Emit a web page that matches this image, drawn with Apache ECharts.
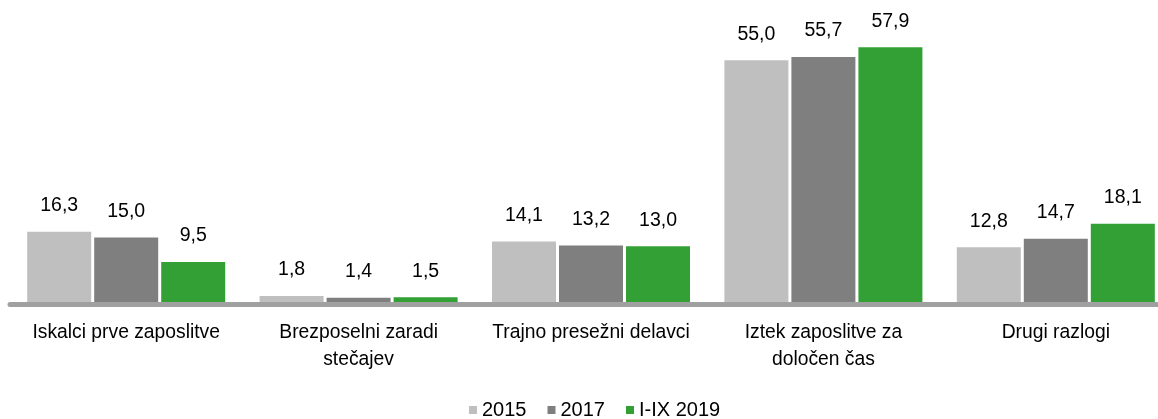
<!DOCTYPE html>
<html lang="sl">
<head>
    <meta charset="UTF-8">
    <title>Razlogi za brezposelnost</title>
    <script type="text/javascript" src="https://cdn.jsdelivr.net/npm/echarts@6/dist/echarts.min.js"></script>
    <style>
        html, body { margin: 0; padding: 0; background: #fff; }
    </style>
</head>
<body>
<div id="main" style="height: 419px; width: 1158px"></div>
<script>
    // kategorije in vrednosti (v %)
    let categories = ['Iskalci prve zaposlitve', 'Brezposelni zaradi\nstečajev', 'Trajno presežni delavci',
        'Iztek zaposlitve za\ndoločen čas', 'Drugi razlogi'];
    let seriesNames = ['2015', '2017', 'I-IX 2019'];
    let values2015 = [16.3, 1.8, 14.1, 55.0, 12.8];
    let values2017 = [15.0, 1.4, 13.2, 55.7, 14.7];
    let values2019 = [9.5, 1.5, 13.0, 57.9, 18.1];
    let colors = ['#bfbfbf', '#7f7f7f', '#33a035'];

    let font = "'Liberation Sans', Arial, sans-serif";

    function makeSeries(name, data, color) {
        return {
            name: name,
            type: 'bar',
            data: data,
            barWidth: 64,
            barGap: '4.7%',
            itemStyle: {color: color},
            label: {
                show: true,
                position: 'top',
                distance: 16,
                color: '#000',
                fontFamily: font,
                fontSize: 19.5,
                formatter: function (p) {
                    return p.value.toFixed(1).replace('.', ',');
                }
            }
        };
    }

    let myChart = echarts.init(document.getElementById('main'));
    let option = {
        animation: false,
        color: colors,
        grid: {left: 10, width: 1162, top: 38, bottom: 115, outerBoundsMode: 'none', containLabel: false},
        legend: {
            left: 464,
            top: 395,
            itemWidth: 8,
            itemHeight: 8,
            itemGap: 21,
            icon: 'rect',
            textStyle: {fontFamily: font, fontSize: 20, color: '#000'},
            data: seriesNames
        },
        xAxis: {
            type: 'category',
            data: categories,
            z: 3,
            axisLine: {lineStyle: {color: '#a0a0a0', width: 5}},
            axisTick: {show: false},
            axisLabel: {
                color: '#000',
                fontFamily: font,
                fontSize: 19.3,
                lineHeight: 27,
                margin: 15,
                interval: 0
            }
        },
        yAxis: {
            type: 'value',
            min: 0,
            max: 60,
            show: false,
            splitLine: {show: false}
        },
        series: [
            makeSeries(seriesNames[0], values2015, colors[0]),
            makeSeries(seriesNames[1], values2017, colors[1]),
            makeSeries(seriesNames[2], values2019, colors[2])
        ]
    };
    myChart.setOption(option);
</script>
</body>
</html>
